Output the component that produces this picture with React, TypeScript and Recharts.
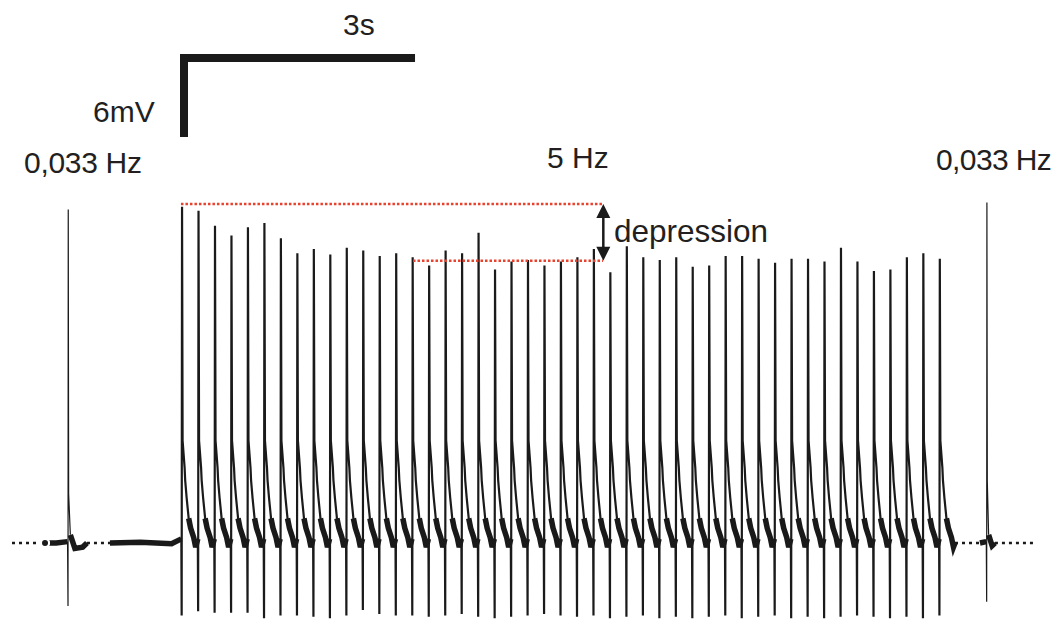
import React from 'react';
import { LineChart, Line, XAxis, YAxis, ReferenceLine, ReferenceDot } from 'recharts';

// time in seconds, voltage in mV above the resting baseline

// 5 Hz train, as drawn
const trainStart = 2.329;
const trainPeriod = 0.2112;

// peak of each response in the train (mV)
const trainPeaks = [
  24.6, 24.3, 23.2, 22.5, 23.1, 23.4, 22.3, 21.2, 21.5, 21.1,
  21.6, 21.4, 21.0, 21.2, 20.9, 20.3, 21.4, 21.2, 22.7, 20.0,
  20.6, 20.7, 20.3, 20.6, 20.9, 21.5, 19.8, 21.7, 20.9, 20.7,
  20.9, 20.2, 20.3, 21.0, 21.0, 20.8, 20.5, 20.8, 20.8, 20.6,
  21.6, 20.6, 19.9, 20.0, 20.9, 21.2, 20.8,
];

// negative stimulus deflection of each response (mV)
const trainTroughs = [
  -5.3, -5.0, -5.1, -5.1, -5.1, -5.5, -5.3, -5.3, -5.4, -5.5,
  -5.3, -4.9, -5.2, -5.3, -5.3, -5.4, -5.3, -5.2, -5.4, -5.5,
  -5.4, -5.3, -5.2, -5.3, -5.4, -5.3, -5.5, -5.4, -5.3, -5.5,
  -5.4, -5.5, -5.4, -5.3, -5.5, -5.4, -5.3, -5.5, -5.4, -5.5,
  -5.4, -5.3, -5.4, -5.5, -5.4, -5.5, -5.3,
];

// decay after each train response (offset s, mV)
const tailOffsets = [0.012, 0.038, 0.045, 0.064, 0.09, 0.115, 0.154, 0.18];
const tailLevels = [7.5, 5.5, 4.6, 3.3, 1.8, 1.1, 0.4, -0.3];

// single test responses at 0,033 Hz
const testTimes = [0.872, 12.65];
const testPeaks = [24.4, 24.9];
const testTroughs = [-4.6, -4.3];
const testTails = [3.6, 4.5];

// dotted baseline where no trace is shown
const dottedSegments = [
  [0.154, 0.577],
  [1.115, 1.41],
  [12.244, 12.564],
  [12.756, 13.27],
];

type Row = { t: number; v: number | null; band: number | null; thin: number | null };

const rows: Row[] = [];
const add = (t: number, v: number, thick = false) =>
  rows.push({ t, v, band: thick ? v : null, thin: null });
const gap = (t: number) => rows.push({ t, v: null, band: null, thin: null });
const test = (t: number, v: number, thick = false) =>
  rows.push({ t, v: null, band: thick ? v : null, thin: v });

// left test response
add(0.577, 0.0, true);
add(0.72, 0.0, true);
test(0.866, 0.1, true);
test(testTimes[0], testTroughs[0]);
test(testTimes[0] + 0.003, testPeaks[0]);
test(testTimes[0] + 0.008, testTails[0]);
test(testTimes[0] + 0.03, 0.6, true);
add(0.96, -0.4, true);
add(1.06, -0.3, true);
add(1.115, 0.0, true);
gap(1.25);

// baseline and 5 Hz train
add(1.41, 0.0, true);
add(1.8, 0.05, true);
add(2.2, -0.05, true);
trainPeaks.forEach((peak, i) => {
  const t0 = trainStart + i * trainPeriod;
  add(t0 - 0.004, 0.3, true);
  add(t0, trainTroughs[i]);
  add(t0 + 0.005, peak);
  tailOffsets.forEach((dt, k) => add(t0 + dt, tailLevels[k], k >= 4));
});
add(12.244, 0.0, true);
gap(12.4);

// right test response
add(12.564, 0.0, true);
test(12.645, 0.1, true);
test(testTimes[1], testTroughs[1]);
test(testTimes[1] + 0.003, testPeaks[1]);
test(testTimes[1] + 0.008, testTails[1]);
test(testTimes[1] + 0.025, 0.6, true);
add(12.72, -0.2, true);
add(12.756, 0.0, true);

const ink = '#1a1a1a';
const red = '#e8412c';

const UpHead = (p: any) => (
  <path d={`M${p.cx},${p.cy} L${p.cx - 7},${p.cy + 14} L${p.cx + 7},${p.cy + 14} Z`} fill={ink} />
);
const DownHead = (p: any) => (
  <path d={`M${p.cx},${p.cy} L${p.cx - 7},${p.cy - 14} L${p.cx + 7},${p.cy - 14} Z`} fill={ink} />
);

const labelStyle: React.CSSProperties = {
  fontFamily: '"Liberation Sans", Arial, sans-serif',
  fontSize: 30,
  fill: '#231f20',
};

const App: React.FC = () => (
  <div style={{ position: 'absolute', left: 0, top: 0, width: 1055, height: 622, background: '#fff' }}>
    <LineChart width={1055} height={622} data={rows} margin={{ top: 0, right: 0, left: 0, bottom: 0 }}>
      <XAxis dataKey="t" type="number" domain={[0, 13.526]} hide allowDataOverflow />
      <YAxis type="number" domain={[-5.779, 39.722]} hide allowDataOverflow />

      {dottedSegments.map(([a, b]) => (
        <ReferenceLine
          key={a}
          segment={[{ x: a, y: 0 }, { x: b, y: 0 }]}
          stroke={ink}
          strokeWidth={2.5}
          strokeDasharray="3 4"
        />
      ))}

      <Line type="linear" dataKey="band" stroke={ink} strokeWidth={5.5} dot={false} isAnimationActive={false} connectNulls={false} />
      <Line type="linear" dataKey="v" stroke={ink} strokeWidth={2.2} dot={false} isAnimationActive={false} connectNulls={false} />
      <Line type="linear" dataKey="thin" stroke={ink} strokeWidth={1.2} dot={false} isAnimationActive={false} connectNulls={false} />

      {/* depression markers */}
      <ReferenceLine segment={[{ x: 2.32, y: 24.8 }, { x: 7.73, y: 24.8 }]} stroke={red} strokeWidth={2.5} strokeDasharray="2.5 2" />
      <ReferenceLine segment={[{ x: 5.295, y: 20.65 }, { x: 7.73, y: 20.65 }]} stroke={red} strokeWidth={2.5} strokeDasharray="2.5 2" />
      <ReferenceLine segment={[{ x: 7.735, y: 24.0 }, { x: 7.735, y: 21.4 }]} stroke={ink} strokeWidth={2.5} />
      <ReferenceDot x={7.735} y={24.8} r={1} shape={UpHead} />
      <ReferenceDot x={7.735} y={20.65} r={1} shape={DownHead} />

      {/* scale bars: 3 s, 6 mV */}
      <ReferenceLine segment={[{ x: 2.308, y: 35.48 }, { x: 5.321, y: 35.48 }]} stroke={ink} strokeWidth={8} />
      <ReferenceLine segment={[{ x: 2.359, y: 29.7 }, { x: 2.359, y: 35.77 }]} stroke={ink} strokeWidth={8} />
    </LineChart>

    <svg width={1055} height={622} style={{ position: 'absolute', left: 0, top: 0, pointerEvents: 'none' }}>
      <text x={343} y={35} style={labelStyle}>3s</text>
      <text x={93} y={121.5} style={labelStyle}>6mV</text>
      <text x={24} y={173} style={labelStyle} letterSpacing={-0.3}>0,033 Hz</text>
      <text x={547} y={168} style={labelStyle}>5 Hz</text>
      <text x={936} y={170} style={labelStyle} letterSpacing={-0.6}>0,033 Hz</text>
      <text x={614} y={241.5} style={{ ...labelStyle, fontSize: 31.5 }}>depression</text>
    </svg>
  </div>
);

export default App;
